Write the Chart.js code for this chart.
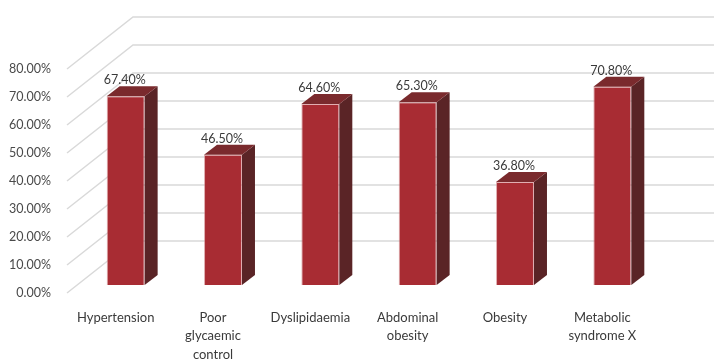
<!DOCTYPE html>
<html>
<head>
<meta charset="utf-8">
<script src="https://cdn.jsdelivr.net/npm/chart.js@4"></script>
<style>
    body { margin: 0; background: #fff; }
    #wrap { width: 714px; height: 359px; }
</style>
</head>
<body>
<div id="wrap"><canvas id="barCanvas"></canvas></div>
<script>
// données
const categories = [
    "Hypertension",
    ["Poor", "glycaemic", "control"],
    "Dyslipidaemia",
    ["Abdominal", "obesity"],
    "Obesity",
    ["Metabolic", "syndrome X"]]
const percentages = [67.4, 46.5, 64.6, 65.3, 36.8, 70.8]
const yTicks = [0, 10, 20, 30, 40, 50, 60, 70, 80]

// effet 3D façon Excel
const depth = { frontX: -10, frontY: 8, backX: 56, backY: -44, sideX: 13, sideY: -10 }
const fontFamily = "Lato, 'Open Sans', sans-serif"

const fake3d = {
    id: 'fake3d',
    beforeDatasetsDraw(chart) {
        const ctx = chart.ctx
        const y = chart.scales.y
        const area = chart.chartArea
        ctx.save()
        ctx.strokeStyle = '#d9d9d9'
        ctx.lineWidth = 1.5
        yTicks.forEach(v => {
            const py = y.getPixelForValue(v)
            ctx.beginPath()
            ctx.moveTo(area.left + depth.frontX, py + depth.frontY)
            ctx.lineTo(area.left + depth.backX, py + depth.backY)
            ctx.lineTo(chart.width, py + depth.backY)
            ctx.stroke()
        })
        ctx.restore()
    },
    afterDatasetsDraw(chart) {
        const ctx = chart.ctx
        const meta = chart.getDatasetMeta(0)
        ctx.save()
        meta.data.forEach((bar, i) => {
            const left = bar.x - bar.width / 2
            const right = bar.x + bar.width / 2
            // côté
            ctx.fillStyle = '#5a2426'
            ctx.beginPath()
            ctx.moveTo(right, bar.y)
            ctx.lineTo(right + depth.sideX, bar.y + depth.sideY)
            ctx.lineTo(right + depth.sideX, bar.base + depth.sideY)
            ctx.lineTo(right, bar.base)
            ctx.closePath()
            ctx.fill()
            // dessus
            ctx.fillStyle = '#7a2a2d'
            ctx.beginPath()
            ctx.moveTo(left, bar.y)
            ctx.lineTo(left + depth.sideX, bar.y + depth.sideY)
            ctx.lineTo(right + depth.sideX, bar.y + depth.sideY)
            ctx.lineTo(right, bar.y)
            ctx.closePath()
            ctx.fill()
            // étiquette
            ctx.fillStyle = '#3a3a3a'
            ctx.font = "12.5px " + fontFamily
            ctx.textAlign = 'center'
            ctx.textBaseline = 'middle'
            ctx.fillText(percentages[i].toFixed(2) + '%', bar.x - 1, bar.y - 16)
        })
        ctx.restore()
    }
}

const barchart = new Chart(document.getElementById('barCanvas'), {
    type: 'bar',
    data: {
        labels: categories,
        datasets: [{
            data: percentages,
            backgroundColor: '#a82c33',
            borderColor: 'rgba(205,120,125,0.6)',
            borderWidth: 1,
            barPercentage: 0.39,
            categoryPercentage: 1
        }]
    },
    options: {
        responsive: true,
        maintainAspectRatio: false,
        animation: false,
        layout: { padding: { top: 61, right: 53, left: 0, bottom: 0 } },
        plugins: { legend: { display: false }, tooltip: { enabled: false } },
        scales: {
            x: {
                grid: { display: false, drawTicks: false },
                border: { display: false },
                afterFit(scale) { scale.height = 74 },
                ticks: {
                    padding: 24,
                    labelOffset: -10,
                    maxRotation: 0,
                    autoSkip: false,
                    color: '#3a3a3a',
                    font: { family: fontFamily, size: 13, lineHeight: 1.4 }
                }
            },
            y: {
                min: 0,
                max: 80,
                afterBuildTicks(axis) { axis.ticks = yTicks.map(v => ({ value: v })) },
                afterFit(scale) { scale.width = 77 },
                grid: { display: false, drawTicks: false },
                border: { display: false },
                ticks: {
                    padding: 26,
                    labelOffset: 8,
                    color: '#4a4a4a',
                    font: { family: fontFamily, size: 12.5 },
                    callback: v => v.toFixed(2) + '%'
                }
            }
        }
    },
    plugins: [fake3d]
})
</script>
</body>
</html>
